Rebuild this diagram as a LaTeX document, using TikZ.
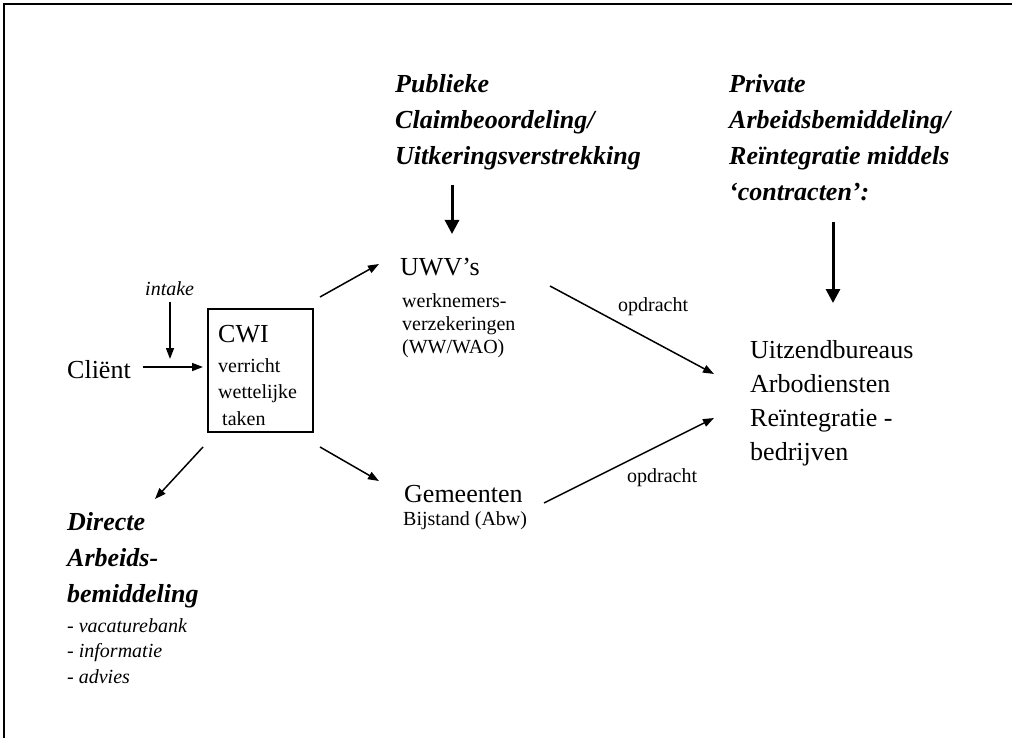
\documentclass[tikz,border=0pt]{standalone}
\usepackage{fontspec}
\setmainfont{Liberation Serif}
\usetikzlibrary{arrows.meta}
\newcommand{\mylines}[1]{\begin{tabular}[t]{@{}l@{}}#1\end{tabular}}
\begin{document}
\begin{tikzpicture}[x=1pt,y=-1pt,
  txt/.style={anchor=base west, inner sep=0pt},
  big/.style={txt, font=\fontsize{26}{34}\selectfont},
  head/.style={txt, font=\fontsize{26}{36}\selectfont\bfseries\itshape},
  small/.style={txt, font=\fontsize{20}{23}\selectfont},
  smallit/.style={txt, font=\fontsize{20}{25.5}\selectfont\itshape},
  thinarrow/.style={line width=1.5pt, -{Triangle[length=11pt,width=8pt]}},
  thickarrow/.style={line width=3pt, -{Triangle[length=14pt,width=14pt]}},
]
\useasboundingbox (0,0) rectangle (1012,738);
% frame
\draw[line width=2pt] (4,738) -- (4,4) -- (1012,4);

% headings
\node[head] (publiek) at (395,93) {\mylines{Publieke\\Claimbeoordeling/\\Uitkeringsverstrekking}};
\node[head] (privaat) at (729,93) {\mylines{Private\\Arbeidsbemiddeling/\\Reïntegratie middels\\‘contracten’:}};

% UWV
\node[big] (uwv) at (400,275) {UWV’s};
\node[small] (uwvsub) at (402,307) {\mylines{werknemers-\\verzekeringen\\(WW/WAO)}};

% client / intake
\node[txt, font=\fontsize{20}{23}\selectfont\itshape] (intake) at (145,295) {intake};
\node[big] (client) at (67,378) {Cliënt};

% CWI box
\node[draw, line width=1.3pt, minimum width=105pt, minimum height=123pt, inner sep=0pt] (cwi) at (260.5,370.5) {};
\node[big] (cwititle) at (218,342) {CWI};
\node[txt, font=\fontsize{20}{26.5}\selectfont] (cwisub) at (218,372) {\mylines{verricht\\wettelijke\\\hspace{4pt}taken}};

% Gemeenten
\node[big] (gem) at (404,502) {Gemeenten};
\node[small] (gemsub) at (403,525) {Bijstand (Abw)};

% right block
\node[big] (uitzend) at (750,358) {\mylines{Uitzendbureaus\\Arbodiensten\\Reïntegratie -\\bedrijven}};

% Directe
\node[head] (directe) at (67,530) {\mylines{Directe\\Arbeids-\\bemiddeling}};
\node[smallit] (lijst) at (67,632) {\mylines{- vacaturebank\\- informatie\\- advies}};

% opdracht labels
\node[small] (opd1) at (618,311) {opdracht};
\node[small] (opd2) at (627,482) {opdracht};

% arrow end points
\coordinate (pubA) at (452,185); \coordinate (pubB) at (452,234);
\coordinate (priA) at (833,222); \coordinate (priB) at (833,303);
\coordinate (intA) at (170,302); \coordinate (intB) at (170,359);
\coordinate (cliA) at (143,367); \coordinate (cliB) at (203,367);
\coordinate (cuA) at (320,297); \coordinate (cuB) at (379,264);
\coordinate (cgA) at (320,447); \coordinate (cgB) at (379,481);
\coordinate (cdA) at (203,447); \coordinate (cdB) at (155,499);
\coordinate (urA) at (550,286); \coordinate (urB) at (714,374);
\coordinate (grA) at (544,503); \coordinate (grB) at (714,418);

\draw[thickarrow] (pubA) -- (pubB);
\draw[thickarrow] (priA) -- (priB);
\draw[thinarrow] (intA) -- (intB);
\draw[thinarrow] (cliA) -- (cliB);
\draw[thinarrow] (cuA) -- (cuB);
\draw[thinarrow] (cgA) -- (cgB);
\draw[thinarrow] (cdA) -- (cdB);
\draw[thinarrow] (urA) -- (urB);
\draw[thinarrow] (grA) -- (grB);
\end{tikzpicture}
\end{document}
